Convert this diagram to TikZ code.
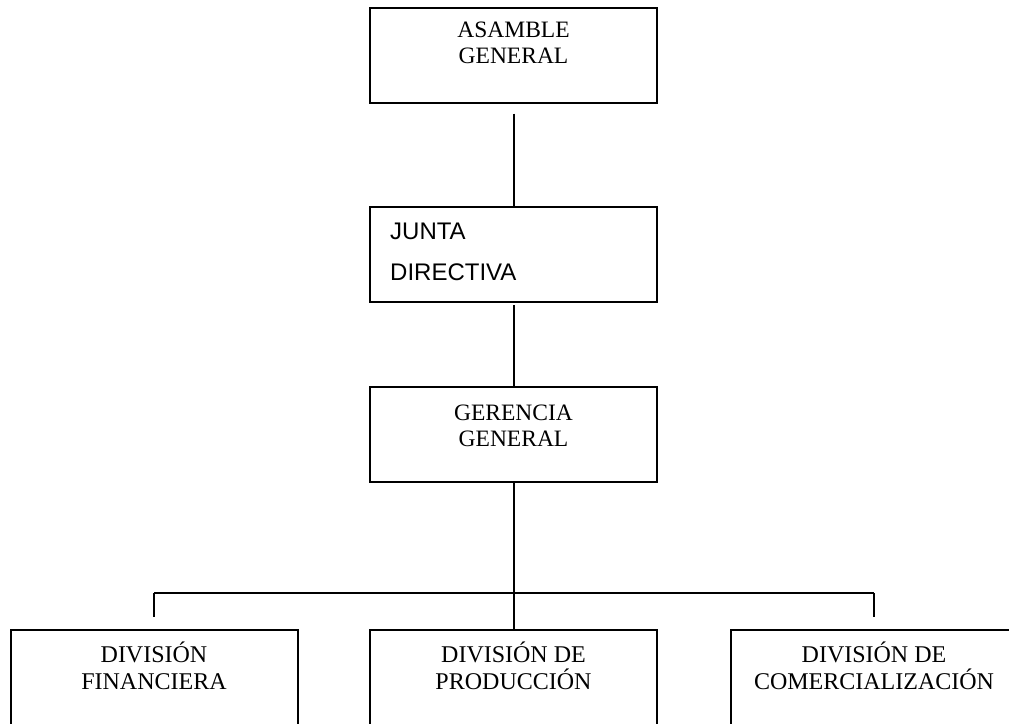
\documentclass[tikz,border=0pt]{standalone}
\usepackage{fontspec}
\setmainfont{Liberation Serif}
\newfontfamily\arialfont{Liberation Sans}

\tikzset{
	orgbox/.style={draw, line width=2pt, minimum width=287pt, minimum height=95pt, inner sep=0pt},
	orgtext/.style={anchor=base, align=center, inner sep=0pt, font=\fontsize{23.5}{26.5}\selectfont},
	orgline/.style={line width=2pt},
}

\begin{document}
\begin{tikzpicture}[x=1pt, y=-1pt]
			\clip (0, 0) rectangle (1009, 723);
			
			\node[orgbox] (asamble) at (513.5, 55) {};
			\node[orgbox] (junta) at (513.5, 254.5) {};
			\node[orgbox] (gerencia) at (513.5, 434) {};
			
			\node[orgbox, minimum height=110pt] (financiera) at (154, 685) {};
			\node[orgbox, minimum height=110pt] (produccion) at (513.5, 685) {};
			\node[orgbox, minimum height=110pt] (comercial) at (874, 685) {};
			
			\node[orgtext] (asambletxt) at ([yshift=-57pt]asamble.north) {ASAMBLE\\GENERAL};
			\node[orgtext, anchor=base west, align=left, font=\arialfont\fontsize{24}{41}\selectfont] (juntatxt) at ([xshift=21pt, yshift=-74pt]junta.north west) {JUNTA\\DIRECTIVA};
			\node[orgtext] (gerenciatxt) at ([yshift=-61pt]gerencia.north) {GERENCIA\\GENERAL};
			
			\node[orgtext, font=\fontsize{24}{26.5}\selectfont] (financieratxt) at ([yshift=-60pt]financiera.north) {DIVISIÓN\\FINANCIERA};
			\node[orgtext, font=\fontsize{24}{26.5}\selectfont] (producciontxt) at ([yshift=-60pt]produccion.north) {DIVISIÓN DE\\PRODUCCIÓN};
			\node[orgtext, font=\fontsize{24}{26.5}\selectfont] (comercialtxt) at ([yshift=-60pt]comercial.north) {DIVISIÓN DE\\COMERCIALIZACIÓN};
			
			\coordinate (bus) at (513.5, 593);
			\coordinate (busleft) at (154, 593);
			\coordinate (busright) at (874, 593);
			
			\draw[orgline, shorten <=10pt] (asamble.south) -- (junta.north);
			\draw[orgline, shorten <=2pt] (junta.south) -- (gerencia.north);
			\draw[orgline] (gerencia.south) -- (bus);
			
			\draw[orgline] (busleft) -- (busright);
			\draw[orgline, shorten >=12pt] (busleft) -- (financiera.north);
			\draw[orgline] (bus) -- (produccion.north);
			\draw[orgline, shorten >=12pt] (busright) -- (comercial.north);
\end{tikzpicture}
\end{document}
